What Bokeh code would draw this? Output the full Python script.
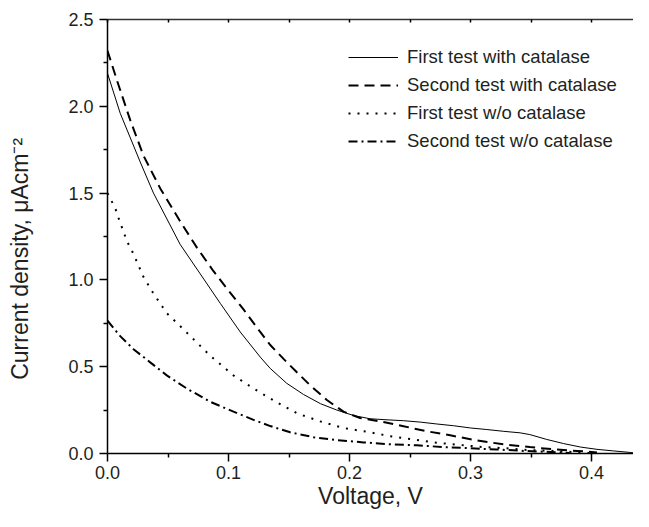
from bokeh.plotting import figure
from bokeh.models import Range1d, LinearAxis, Legend, LegendItem, FixedTicker, CustomJSTickFormatter
from bokeh.embed import file_html
from bokeh.resources import INLINE

# Data
x1 = [0.0, 0.0105, 0.027, 0.038, 0.060, 0.0766, 0.0932, 0.1097, 0.1263, 0.1345, 0.148, 0.162, 0.176, 0.1896, 0.2033,
      0.217, 0.231, 0.2446, 0.2584, 0.2722, 0.286, 0.300, 0.3135, 0.327, 0.341, 0.349, 0.363, 0.377, 0.391, 0.4045,
      0.418, 0.432, 0.439]
y1 = [2.19, 1.96, 1.68, 1.50, 1.205, 1.035, 0.865, 0.700, 0.555, 0.490, 0.405, 0.340, 0.287, 0.250, 0.219,
      0.200, 0.194, 0.189, 0.181, 0.170, 0.160, 0.147, 0.138, 0.128, 0.119, 0.109, 0.081, 0.057, 0.037, 0.024,
      0.015, 0.006, 0.0]

x2 = [0.0, 0.0078, 0.0188, 0.0298, 0.0436, 0.060, 0.0739, 0.0876, 0.0987, 0.1124, 0.1262, 0.1345, 0.1455, 0.1565,
      0.1675, 0.1813, 0.195, 0.2088, 0.2254, 0.2446, 0.264, 0.2832, 0.3053, 0.327, 0.349, 0.3686, 0.388, 0.4045]
y2 = [2.32, 2.15, 1.92, 1.715, 1.527, 1.338, 1.186, 1.050, 0.950, 0.830, 0.700, 0.625, 0.545, 0.468,
      0.393, 0.308, 0.241, 0.204, 0.185, 0.157, 0.128, 0.105, 0.075, 0.053, 0.037, 0.024, 0.015, 0.006]

x3 = [0.0, 0.0064, 0.0091, 0.016, 0.0215, 0.0298, 0.038, 0.049, 0.0574, 0.0711, 0.0849, 0.1041, 0.1207, 0.140,
      0.1565, 0.1758, 0.195, 0.2144, 0.2336, 0.253, 0.2722, 0.2915, 0.3107, 0.330, 0.349, 0.3686, 0.388, 0.40]
y3 = [1.50, 1.413, 1.357, 1.224, 1.149, 1.016, 0.922, 0.808, 0.752, 0.658, 0.563, 0.450, 0.374, 0.295,
      0.232, 0.185, 0.147, 0.125, 0.100, 0.081, 0.062, 0.049, 0.037, 0.030, 0.019, 0.015, 0.007, 0.002]

x4 = [0.0, 0.0105, 0.0215, 0.0353, 0.049, 0.0656, 0.0849, 0.1041, 0.1207, 0.1345, 0.151, 0.1703, 0.1896, 0.2116,
      0.2336, 0.2557, 0.2777, 0.300, 0.3218, 0.3438, 0.366, 0.382]
y4 = [0.765, 0.676, 0.601, 0.525, 0.450, 0.374, 0.298, 0.241, 0.194, 0.158, 0.122, 0.094, 0.077, 0.064,
      0.053, 0.047, 0.037, 0.030, 0.023, 0.015, 0.009, 0.003]

labels = ["First test with catalase", "Second test with catalase",
          "First test w/o catalase", "Second test w/o catalase"]
x_ticks = [0.0, 0.1, 0.2, 0.3, 0.4]
y_ticks = [0.0, 0.5, 1.0, 1.5, 2.0, 2.5]

FONT = "Liberation Sans"
TXT = "#231f20"

p = figure(width=633, height=511, output_backend="svg", toolbar_location=None,
           x_range=Range1d(0, 0.4347), y_range=Range1d(0, 2.5),
           min_border_left=107, min_border_top=19, min_border_bottom=55, min_border_right=0)
p.outline_line_color = None
p.grid.visible = False
p.background_fill_color = "white"

r1 = p.line(x1, y1, line_color="black", line_width=1)
r2 = p.line(x2, y2, line_color="black", line_width=2, line_dash="10 6")
r3 = p.line(x3, y3, line_color="black", line_width=2, line_dash="2 7")
r4 = p.line(x4, y4, line_color="black", line_width=2, line_dash="9 4 2 4")

fmt = "return tick.toFixed(1);"
for ax, ticks in ((p.xaxis[0], x_ticks), (p.yaxis[0], y_ticks)):
    ax.ticker = FixedTicker(ticks=ticks,
                            minor_ticks=[t + (ticks[1] - ticks[0]) / 2 for t in ticks])
    ax.formatter = CustomJSTickFormatter(code=fmt)
    ax.axis_line_width = 1.5
    ax.axis_line_color = "black"
    ax.major_tick_line_color = "black"
    ax.minor_tick_line_color = "black"
    ax.major_tick_line_width = 1.5
    ax.minor_tick_line_width = 1.5
    ax.major_tick_out = 8
    ax.major_tick_in = 0
    ax.minor_tick_out = 4
    ax.minor_tick_in = 0
    ax.major_label_text_font = FONT
    ax.major_label_text_font_size = "18px"
    ax.major_label_text_color = TXT
    ax.axis_label_text_font = FONT
    ax.axis_label_text_font_size = "23px"
    ax.axis_label_text_font_style = "normal"
    ax.axis_label_text_color = TXT

p.xaxis[0].major_label_standoff = 4
p.yaxis[0].major_label_standoff = 6
p.xaxis[0].axis_label = "Voltage, V"
p.yaxis[0].axis_label = "Current density, \u03bcAcm\u207b\u00b2" + "\u00a0" * 7
p.xaxis[0].axis_label_standoff = 1
p.yaxis[0].axis_label_standoff = 32

top = LinearAxis(ticker=FixedTicker(ticks=[], minor_ticks=[t / 20 for t in range(0, 9)]))
top.axis_line_width = 1.5
top.axis_line_color = "#333333"
top.minor_tick_in = 3
top.minor_tick_out = 0
top.minor_tick_line_width = 1.5
top.major_label_standoff = 0
p.add_layout(top, "above")

legend = Legend(items=[LegendItem(label=l, renderers=[r]) for l, r in zip(labels, [r1, r2, r3, r4])],
                location=(241, 301), padding=0, margin=0, spacing=6,
                glyph_width=50, glyph_height=22, label_height=22, label_standoff=9,
                label_text_font=FONT, label_text_font_size="18.5px", label_text_color=TXT,
                border_line_color=None, background_fill_alpha=0)
p.add_layout(legend)

open("out.html", "w").write(file_html(p, INLINE))
